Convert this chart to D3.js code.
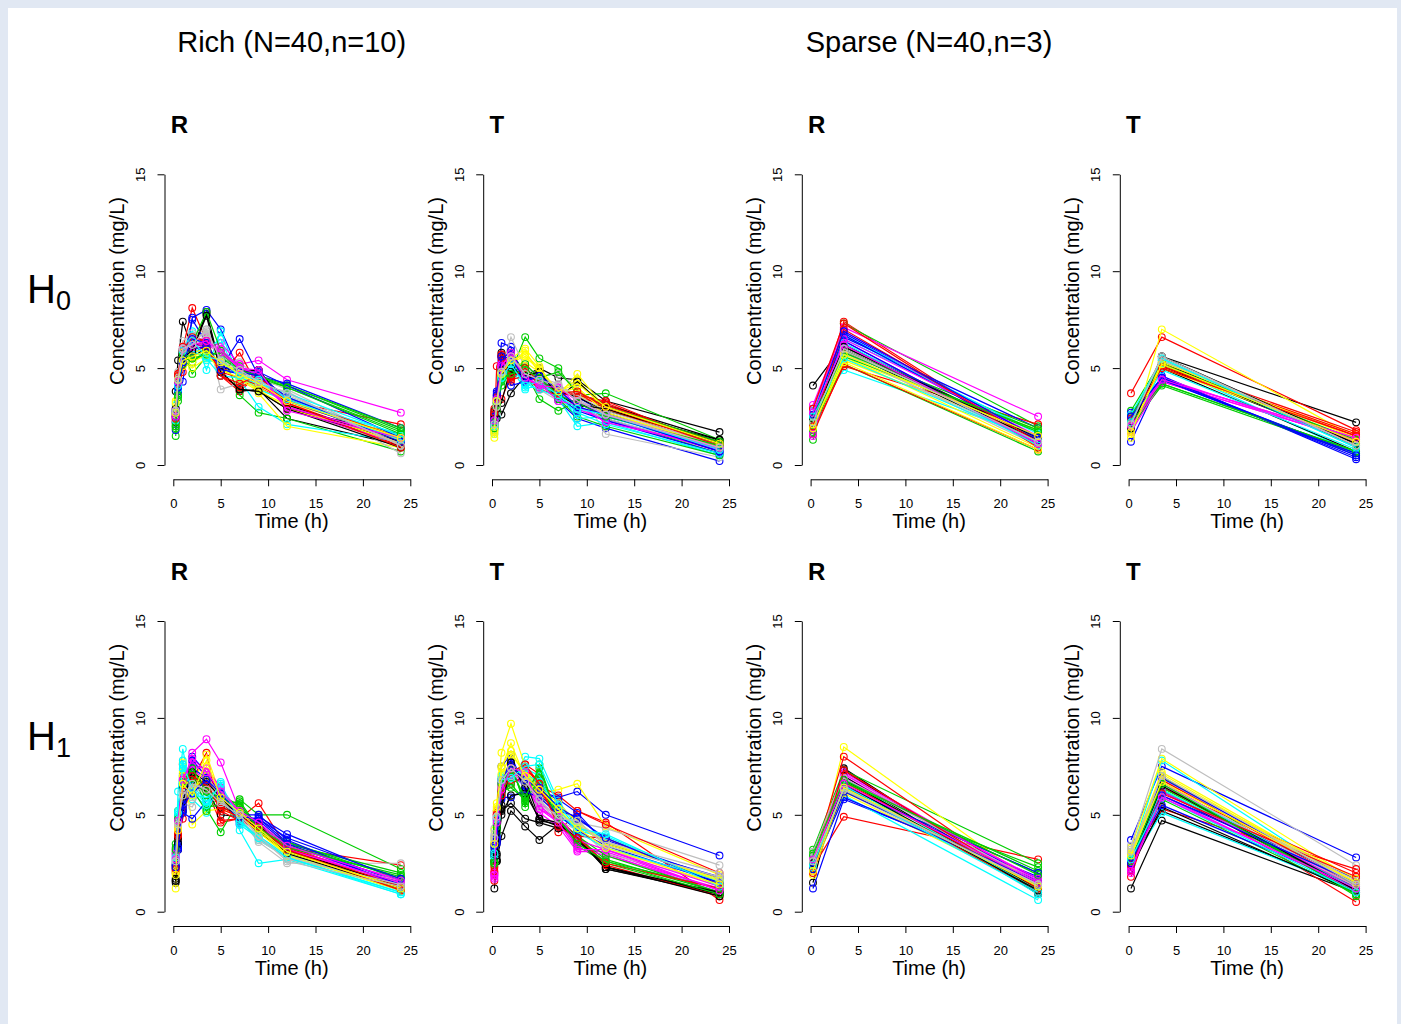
<!DOCTYPE html>
<html><head><meta charset="utf-8">
<script src="https://cdn.jsdelivr.net/npm/d3@7"></script>
<style>
html,body{margin:0;padding:0;background:#e1e8f3;}
svg{display:block;font-family:"Liberation Sans",Arial,Helvetica,sans-serif;}
</style></head>
<body><svg id="chart" width="1401" height="1024"></svg>
<script>
// ---------- DATA ----------
const timesRich = [0.25, 0.5, 1, 2, 3.5, 5, 7, 9, 12, 24];
const timesSparse = [0.25, 3.5, 24];
const palette = ["#000000","#FF0000","#00CD00","#0000FF","#00FFFF","#FF00FF","#FFFF00","#BEBEBE"];
const xTicks = [0, 5, 10, 15, 20, 25];
const yTicks = [0, 5, 10, 15];
const designTitles = ["Rich (N=40,n=10)", "Sparse (N=40,n=3)"];
const hypothesisLabels = ["0", "1"];
const formulationLabels = ["R", "T", "R", "T"];

const h0RichR = [
[3.8,5.4,7.4,6.0,7.8,4.9,3.8,3.9,2.4,1.0],[2.6,4.7,6.0,8.1,6.4,4.6,3.8,4.7,3.0,1.0],
[1.5,3.3,5.8,4.7,5.6,5.9,3.6,2.7,2.4,0.7],[2.8,3.8,4.3,7.6,8.0,7.0,4.8,4.7,3.4,1.3],
[3.1,4.0,5.6,6.9,4.9,6.9,4.4,3.0,2.1,1.2],[2.2,4.2,5.6,6.3,6.0,6.3,5.2,5.4,4.4,2.7],
[3.3,4.0,5.3,5.0,5.5,5.2,4.9,3.7,2.0,0.9],[2.4,4.4,5.6,6.6,6.9,3.9,4.2,4.1,3.8,0.6],
[2.5,3.9,5.9,5.8,7.9,5.0,4.9,4.9,2.9,1.6],[2.3,4.4,4.8,6.3,6.5,4.6,5.8,4.0,3.3,2.1],
[2.0,3.7,5.9,5.3,5.8,5.7,4.9,4.3,4.1,1.8],[1.8,3.8,5.3,7.5,6.3,5.0,6.5,4.6,4.2,1.9],
[2.6,3.6,6.1,6.7,6.0,6.5,4.3,4.2,3.5,1.4],[2.9,4.6,6.0,5.9,6.2,5.8,5.1,4.6,2.9,1.1],
[2.5,4.3,5.1,5.5,5.8,5.4,4.7,4.0,3.2,1.5],[2.9,4.8,6.4,6.8,7.0,5.5,5.3,4.5,3.9,1.0],
[2.2,4.0,5.8,6.2,6.2,4.8,3.9,3.8,2.9,1.2],[2.7,4.5,5.5,6.3,6.2,4.6,4.0,4.5,3.2,1.1],
[2.1,3.9,5.2,6.3,7.9,5.9,5.1,4.5,4.0,1.7],[2.6,4.0,5.8,5.7,6.2,4.9,4.7,4.7,3.3,1.3],
[2.8,4.2,5.8,6.2,5.4,5.3,4.6,3.9,3.3,1.6],[2.4,4.4,5.9,6.4,6.6,5.7,5.2,4.3,3.0,1.3],
[2.6,4.6,5.9,5.8,6.0,5.0,4.4,3.8,3.1,1.1],[2.4,4.3,5.6,6.5,6.8,5.7,5.0,4.2,3.6,1.2],
[2.9,4.5,5.7,5.6,6.0,5.1,4.8,4.9,3.1,1.2],[2.5,4.7,6.1,6.1,6.0,4.8,4.5,4.1,3.4,1.4],
[2.0,3.5,5.6,5.3,5.9,5.6,4.8,4.6,4.1,1.9],[2.8,3.8,5.3,6.0,6.1,5.1,4.8,4.8,4.1,1.4],
[2.3,3.9,5.4,5.9,5.5,4.6,4.5,4.2,3.7,1.5],[2.8,4.2,5.7,6.1,6.3,6.0,5.0,4.7,3.0,1.4],
[3.2,4.4,5.8,5.3,5.7,4.9,4.5,3.9,2.9,1.3],[2.6,4.5,5.9,6.2,6.7,5.3,4.7,4.4,3.5,1.1],
[2.7,4.3,5.5,5.9,7.7,4.8,3.9,3.8,2.9,0.9],[2.4,4.6,5.9,6.6,6.4,4.6,4.2,4.6,3.2,0.9],
[1.9,3.6,5.7,5.5,5.7,5.8,4.9,4.6,4.0,1.6],[2.5,4.0,5.3,6.5,6.3,4.9,4.8,4.6,3.5,1.2],
[2.7,4.1,5.9,6.4,5.6,5.4,4.6,4.4,3.4,1.3],[2.5,4.3,6.0,6.2,6.4,5.8,5.0,4.9,2.8,1.4],
[2.7,4.4,5.4,5.6,5.9,5.3,4.7,4.2,3.3,1.4],[2.8,4.4,6.0,6.2,7.0,5.4,4.9,4.3,3.7,1.0]
];
const h0RichT = [
[2.8,3.4,2.6,3.7,4.6,5.0,4.5,4.4,3.3,1.7],[2.0,5.1,5.7,4.3,5.1,4.0,3.8,3.7,3.2,1.0],
[1.8,2.8,4.1,4.8,6.6,5.5,5.0,3.6,3.7,1.3],[2.4,3.7,6.3,6.1,4.2,4.8,3.3,2.4,1.9,0.2],
[1.6,2.5,4.7,5.0,3.9,4.2,3.4,2.0,2.2,0.5],[2.2,3.0,4.9,5.7,4.3,4.1,4.1,3.0,2.4,0.7],
[1.4,3.0,4.6,5.5,6.0,5.1,3.6,4.7,2.9,1.1],[1.7,2.6,5.0,6.6,5.0,4.6,4.7,4.0,1.6,0.4],
[2.5,2.4,5.8,5.0,4.5,4.5,3.7,3.0,3.1,1.3],[2.9,3.3,3.4,4.6,4.9,4.4,3.8,3.6,3.3,0.9],
[2.1,3.2,4.4,5.8,4.8,3.4,2.8,3.3,2.4,0.6],[1.9,3.8,5.6,4.1,4.3,4.6,3.8,3.5,2.7,0.8],
[2.3,3.5,4.9,5.3,4.2,4.4,3.7,3.1,2.3,1.0],[2.6,3.6,5.3,5.4,4.6,4.3,3.6,3.2,2.5,0.9],
[1.9,3.2,4.6,5.3,5.6,4.9,3.8,4.4,2.8,1.2],[2.4,3.4,4.8,5.2,4.7,3.9,3.3,2.9,2.4,0.8],
[2.7,3.0,3.2,5.1,4.5,4.6,3.4,4.3,3.0,1.2],[2.3,3.3,5.7,4.6,4.8,4.2,3.9,3.5,3.1,1.1],
[2.0,2.9,4.3,4.9,5.0,4.3,3.4,2.5,2.0,0.5],[2.5,3.6,5.4,5.9,4.6,4.7,3.6,3.2,2.6,0.7],
[2.2,3.2,4.5,5.3,4.0,4.0,3.8,2.4,2.5,0.9],[2.1,3.2,5.0,5.6,4.7,4.0,3.9,2.9,2.3,0.8],
[1.6,3.0,4.9,5.1,5.3,4.8,3.9,3.7,2.6,1.0],[2.2,3.1,4.7,5.5,4.8,4.5,4.2,3.4,2.6,1.1],
[2.6,3.2,5.6,4.8,4.6,4.4,3.8,3.5,2.8,1.3],[2.6,3.4,5.5,4.4,4.6,3.9,3.6,3.7,2.9,0.9],
[2.2,3.0,4.6,5.0,5.2,4.5,4.8,3.8,3.0,1.2],[2.1,3.5,5.1,5.2,4.3,4.6,3.5,2.8,2.3,0.6],
[2.0,3.1,4.4,5.1,4.2,3.9,3.5,2.7,2.1,0.6],[2.4,3.3,5.2,5.6,4.4,4.2,3.3,3.1,2.2,0.9],
[1.7,3.1,4.8,5.2,5.9,4.7,3.7,4.0,2.7,1.0],[1.9,2.9,4.9,5.4,4.9,4.3,4.1,3.6,2.8,1.0],
[2.4,2.9,4.9,5.0,4.6,4.8,3.6,3.1,2.9,1.1],[2.7,3.5,5.6,4.5,5.0,4.3,3.7,3.8,3.0,1.0],
[1.9,3.1,4.4,4.7,4.9,4.5,3.6,3.2,2.5,1.0],[2.3,3.6,5.6,5.5,4.4,4.6,3.9,3.0,2.6,0.7],
[2.0,3.3,4.5,5.2,4.1,4.3,3.6,2.9,2.6,0.8],[2.3,3.4,5.1,5.8,4.5,4.1,4.0,3.3,2.6,0.9],
[1.8,3.3,4.7,5.4,5.7,5.0,3.8,4.2,3.0,1.1],[2.1,3.0,4.8,5.6,4.7,4.4,4.1,3.3,2.6,0.9]
];
const h1RichR = [
[1.5,3.2,5.2,6.9,6.5,6.2,5.0,4.6,3.1,1.4],[2.1,4.1,7.6,6.5,6.3,4.6,4.8,5.6,3.3,2.4],
[3.5,5.2,7.1,7.3,5.3,4.1,5.8,5.0,5.0,2.2],[2.3,3.2,5.2,8.0,7.2,6.0,4.5,4.9,4.0,1.6],
[2.9,6.2,8.4,5.8,5.1,6.7,4.2,2.5,2.7,0.9],[3.2,4.8,6.4,8.2,8.9,7.7,5.2,4.5,3.2,1.7],
[1.2,3.8,7.7,4.5,5.2,5.3,4.9,4.1,3.0,1.3],[2.4,4.4,5.9,5.9,6.4,5.8,4.8,3.6,2.5,2.5],
[1.6,3.6,5.4,7.4,6.3,5.0,4.9,4.4,3.2,1.1],[2.0,3.8,4.8,6.8,8.2,4.7,4.8,4.1,3.2,1.3],
[3.0,4.6,6.9,7.2,5.4,5.5,5.7,4.3,3.5,2.0],[2.4,3.3,5.1,4.8,5.7,6.3,4.6,4.8,3.6,1.5],
[2.7,5.0,7.3,6.2,5.4,6.3,4.5,3.8,2.8,1.0],[2.8,4.6,6.6,7.7,7.0,6.0,5.1,4.4,3.3,1.4],
[2.2,4.5,7.2,6.6,8.1,6.0,5.3,4.2,2.9,1.2],[2.6,4.7,5.6,5.4,6.9,6.1,5.0,3.9,2.7,1.5],
[2.4,3.8,6.4,7.0,6.6,5.4,5.0,4.1,3.1,1.2],[2.5,4.2,5.8,6.6,6.2,5.5,4.8,4.2,3.4,1.2],
[3.3,4.9,6.6,6.3,5.2,6.0,5.5,4.4,3.6,1.7],[2.2,3.5,5.3,7.8,7.0,5.7,5.0,5.0,3.7,1.3],
[2.5,4.9,7.4,6.5,5.7,6.5,4.8,3.7,2.8,1.0],[2.9,4.5,7.0,7.3,6.8,5.8,5.0,4.5,3.3,1.4],
[2.0,4.3,6.8,6.4,7.5,6.2,5.2,4.2,3.0,1.3],[2.5,4.5,6.2,6.1,6.5,5.9,5.1,3.8,2.9,1.6],
[1.7,3.9,6.0,6.8,6.4,5.6,4.9,4.3,3.2,1.3],[2.3,4.0,6.2,6.4,6.7,5.2,4.7,4.3,3.3,1.3],
[3.1,4.7,7.0,6.9,6.0,5.7,5.6,4.2,3.3,1.9],[2.4,3.4,5.8,7.4,6.9,5.9,4.7,4.7,3.5,1.4],
[2.6,5.2,7.8,6.0,5.9,6.4,4.6,3.9,2.9,1.1],[3.0,4.4,6.9,7.5,7.4,6.4,5.1,4.3,3.2,1.5],
[2.1,4.4,7.0,6.3,7.0,5.8,5.0,4.1,2.9,1.1],[2.7,4.6,6.1,6.3,6.7,5.7,4.9,3.7,2.8,1.4],
[1.6,3.5,5.7,7.2,6.7,5.9,4.9,4.5,3.0,1.2],[2.2,3.9,6.8,7.0,6.5,5.3,4.9,4.4,3.2,1.1],
[3.2,4.8,6.7,7.4,6.2,5.9,5.4,4.3,3.4,1.8],[2.3,3.3,5.5,6.1,6.8,6.1,4.9,4.8,3.8,1.7],
[2.8,5.1,7.6,6.4,5.5,6.6,4.7,3.8,2.8,0.9],[2.7,4.7,6.8,7.9,7.2,6.2,5.2,4.6,3.4,1.6],
[1.9,4.2,6.6,6.0,7.8,5.9,5.1,4.3,3.1,1.2],[2.6,4.5,6.0,6.6,6.3,5.6,5.0,3.9,2.6,1.3]
];
const h1RichT = [
[1.2,2.6,3.9,5.2,4.4,3.7,4.5,3.8,2.2,0.9],[1.6,5.2,6.3,7.0,7.6,7.1,4.1,5.2,4.6,0.6],
[2.5,4.3,6.0,7.7,5.4,7.6,4.7,3.4,2.5,0.9],[3.1,3.6,7.5,8.1,6.3,6.2,5.9,6.2,5.0,2.9],
[2.7,4.9,6.6,6.7,8.0,7.9,5.7,4.4,3.6,1.6],[1.8,4.7,6.2,7.0,6.9,5.1,4.4,3.1,3.1,1.1],
[4.2,5.6,8.2,9.7,7.5,6.1,6.3,6.6,4.4,1.9],[4.3,4.8,6.7,7.3,7.0,5.4,4.8,4.6,4.3,2.4],
[3.5,2.6,5.2,5.6,4.8,4.6,4.3,3.9,2.3,0.9],[2.6,4.8,6.3,6.9,7.5,6.5,6.0,5.2,4.5,2.0],
[2.4,4.0,6.2,6.4,5.8,7.1,4.9,3.6,2.6,1.2],[3.0,3.5,5.9,5.9,6.3,6.2,5.8,5.1,3.5,1.8],
[3.2,4.6,7.0,7.5,7.1,6.4,5.3,4.2,3.8,1.5],[1.9,4.9,6.0,6.9,6.7,5.5,4.6,3.5,3.0,1.0],
[3.6,5.2,7.4,8.7,6.9,6.0,5.4,4.7,3.4,1.3],[3.9,4.6,6.5,7.1,6.8,5.7,4.9,4.4,3.0,1.5],
[2.6,2.7,5.0,6.0,6.1,4.8,4.4,3.9,2.2,1.0],[2.0,5.0,6.2,6.8,7.3,6.8,4.5,4.0,2.4,0.8],
[2.5,4.5,6.4,7.5,5.6,6.8,4.6,3.8,2.7,1.0],[2.9,3.8,5.8,7.0,6.5,6.0,5.2,4.9,3.7,1.7],
[2.8,4.7,6.8,7.0,7.4,7.0,4.9,4.3,3.9,1.4],[2.0,4.8,6.4,7.2,6.6,5.3,4.8,3.3,2.9,1.2],
[3.3,5.0,6.9,7.8,6.6,5.9,5.1,4.5,3.5,1.7],[3.7,4.5,6.4,6.8,6.6,5.6,4.7,4.2,3.2,1.6],
[2.9,3.0,5.5,7.6,6.8,4.8,4.6,3.7,2.3,0.8],[2.3,5.1,6.6,6.6,7.0,6.3,4.8,3.9,3.8,1.4],
[2.6,4.2,6.1,6.6,5.7,6.9,4.7,3.9,2.9,1.0],[3.3,3.9,6.6,7.9,6.2,5.9,5.0,4.2,3.4,1.5],
[2.9,4.9,6.9,7.2,7.1,6.7,5.3,4.1,3.3,1.6],[1.7,5.0,6.5,7.1,7.0,5.6,4.9,3.7,3.2,1.3],
[3.8,5.3,7.1,8.1,7.2,6.4,5.6,4.6,3.6,1.6],[4.0,4.7,6.6,7.0,6.9,5.5,5.0,4.5,3.6,2.0],
[3.0,2.9,5.3,7.7,6.4,4.7,4.5,3.8,2.3,1.0],[2.1,5.0,6.0,7.2,7.6,6.6,4.4,3.8,2.5,1.2],
[2.5,4.4,6.6,7.3,5.9,7.4,4.8,3.5,2.6,0.9],[3.4,3.7,6.8,7.5,6.8,6.4,5.4,4.8,3.8,1.4],
[3.0,4.8,6.8,6.9,7.5,7.6,5.5,4.3,4.0,1.3],[1.9,4.6,6.3,7.4,7.2,5.3,4.6,3.2,3.2,1.1],
[3.5,5.4,7.5,8.3,7.0,6.3,5.3,4.3,3.3,1.4],[3.8,4.9,6.8,7.4,6.7,5.8,4.8,4.7,3.4,1.8]
];
const h0SparseR = [
[4.1,6.2,1.4],[2.4,7.4,1.0],[1.3,7.3,2.0],[2.2,6.8,1.4],[2.8,4.9,1.4],[3.1,7.1,2.5],[2.0,5.6,0.9],[2.6,6.0,1.1],
[2.4,6.1,1.3],[1.8,5.1,2.1],[2.0,5.2,0.7],[2.3,6.6,1.9],[2.9,6.5,1.7],[1.5,6.4,1.1],[1.9,5.4,1.5],[2.5,5.8,1.0],
[2.2,5.9,1.2],[1.6,5.2,0.8],[1.8,5.9,1.9],[2.1,6.4,1.1],[2.7,6.7,1.6],[2.9,6.9,1.3],[2.3,5.5,1.8],[2.0,5.7,1.2],
[2.5,6.0,1.3],[2.9,7.3,0.9],[1.7,5.8,1.7],[2.2,6.7,1.3],[2.4,6.3,1.0],[1.6,6.5,1.5],[2.1,5.3,0.8],[2.3,5.9,1.4],
[2.4,6.1,1.4],[2.0,7.0,1.2],[2.2,5.6,1.8],[2.6,6.9,1.4],[2.5,5.5,1.2],[2.7,6.2,1.1],[1.9,5.7,1.5],[2.2,6.0,1.2]
];
const h0SparseT = [
[2.1,5.6,2.2],[3.7,6.6,1.8],[2.8,5.4,1.2],[1.2,4.6,0.3],[2.3,5.2,0.6],[1.9,4.4,1.4],[1.4,7.0,1.4],[2.2,5.5,0.9],
[1.8,5.0,0.7],[1.8,5.2,1.7],[2.0,4.1,0.6],[2.6,4.5,0.4],[2.4,5.3,1.0],[2.0,4.3,1.3],[1.6,5.1,1.6],[2.3,5.6,1.1],
[2.0,5.1,1.1],[2.2,5.1,1.5],[1.9,4.2,0.7],[2.7,4.4,0.5],[2.6,5.4,0.9],[1.7,4.3,1.3],[2.0,5.0,1.3],[1.9,5.4,1.0],
[2.2,5.3,1.0],[2.1,5.1,1.6],[2.5,5.2,1.3],[2.3,4.4,0.6],[1.9,4.9,0.8],[2.1,4.5,1.2],[1.8,5.3,1.4],[2.2,5.5,1.0],
[1.9,5.6,1.1],[2.4,5.0,1.5],[2.2,4.2,0.7],[2.5,4.5,0.5],[2.2,5.5,0.9],[2.0,4.4,1.4],[1.7,5.2,1.2],[2.1,5.6,1.0]
];
const h1SparseR = [
[1.5,7.4,0.9],[2.3,4.9,2.7],[3.2,7.3,2.5],[1.2,5.8,1.8],[2.2,6.0,0.6],[2.9,7.2,1.5],[1.9,8.5,1.3],[3.0,6.2,1.2],
[2.4,7.3,1.0],[2.6,8.0,1.1],[2.8,6.2,2.3],[2.4,6.5,1.7],[2.5,6.9,0.9],[2.8,7.0,1.4],[2.2,6.1,1.2],[3.1,7.1,1.3],
[2.6,7.0,1.0],[2.5,6.6,1.0],[3.0,6.4,2.0],[2.3,5.9,1.6],[2.7,6.8,1.1],[2.5,7.1,1.6],[2.0,6.3,1.4],[2.9,6.6,1.4],
[2.2,6.8,1.2],[2.0,6.7,1.3],[2.7,6.7,2.1],[2.5,6.4,2.0],[2.3,6.5,1.3],[2.6,6.9,1.7],[2.4,6.2,1.5],[2.8,6.9,1.5],
[2.5,6.6,1.1],[2.1,7.3,1.2],[2.9,6.8,1.9],[2.2,6.2,1.5],[2.4,6.4,1.0],[2.7,6.6,1.5],[2.1,6.4,1.3],[2.6,6.3,1.4]
];
const h1SparseT = [
[1.2,4.7,1.0],[1.8,6.6,0.5],[2.4,7.0,0.8],[3.7,7.5,2.8],[3.0,7.8,1.3],[2.1,6.5,1.2],[3.3,7.9,1.6],[3.4,8.4,2.4],
[2.6,5.2,1.1],[2.9,5.3,2.2],[2.3,5.8,0.9],[2.8,6.0,1.7],[2.5,5.1,1.1],[2.0,6.7,1.0],[3.1,7.2,1.5],[3.0,6.9,1.4],
[2.2,5.4,1.0],[2.6,6.4,2.0],[2.5,6.3,1.0],[2.7,5.5,1.3],[2.9,6.6,1.1],[2.3,6.0,1.1],[2.8,6.9,1.7],[3.2,6.8,1.6],
[2.4,6.2,1.2],[2.1,6.8,1.3],[2.7,6.4,1.2],[2.4,6.9,1.4],[2.6,6.3,1.2],[2.2,6.2,1.3],[3.0,7.1,1.4],[2.9,6.6,1.3],
[2.5,6.5,1.1],[2.4,6.1,1.8],[2.6,6.6,0.9],[2.5,6.0,1.5],[2.7,5.9,1.0],[2.1,5.9,1.2],[2.9,6.7,1.5],[3.1,7.0,1.4]
];

// ---------- LAYOUT ----------
const svg = d3.select("#chart");
svg.append("rect").attr("x",0).attr("y",0).attr("width",1401).attr("height",1024).attr("fill","#e1e8f3");
svg.append("rect").attr("x",8).attr("y",8).attr("width",1389).attr("height",1016).attr("fill","#ffffff");

const colX0 = [173.3, 492.0, 810.6, 1128.6];
const rowY0 = [465.0, 911.7];
const plotW = 237, plotH = 290.7;

const panels = [
  {row:0,col:0,data:h0RichR,times:timesRich},
  {row:0,col:1,data:h0RichT,times:timesRich},
  {row:0,col:2,data:h0SparseR,times:timesSparse},
  {row:0,col:3,data:h0SparseT,times:timesSparse},
  {row:1,col:0,data:h1RichR,times:timesRich},
  {row:1,col:1,data:h1RichT,times:timesRich},
  {row:1,col:2,data:h1SparseR,times:timesSparse},
  {row:1,col:3,data:h1SparseT,times:timesSparse}
];

// design titles
designTitles.forEach((t,i)=>{
  svg.append("text").attr("x", colX0[i*2]+118.4).attr("y", 52)
    .attr("text-anchor","middle").attr("font-size",29).attr("fill","#000").text(t);
});
// hypothesis labels
hypothesisLabels.forEach((s,i)=>{
  const t = svg.append("text").attr("x",27).attr("y", rowY0[i]-162).attr("font-size",40).attr("fill","#000");
  t.append("tspan").text("H");
  t.append("tspan").attr("font-size",27).attr("dy",7).text(s);
});

panels.forEach(p=>{
  const x0 = colX0[p.col], y0 = rowY0[p.row];
  const x = d3.scaleLinear().domain([0,25]).range([x0, x0+plotW]);
  const y = d3.scaleLinear().domain([0,15]).range([y0, y0-plotH]);
  const g = svg.append("g");

  // x axis
  const xa = g.append("g").attr("transform",`translate(0,${y0+14.3})`)
    .call(d3.axisBottom(x).tickValues(xTicks).tickSize(7).tickSizeOuter(0).tickFormat(d3.format("d")));
  xa.selectAll("text").attr("font-size",13).attr("font-family","Liberation Sans, Arial, sans-serif")
    .attr("dy",null).attr("y",28.5);
  // y axis
  const axX = x0-8.8;
  const ya = g.append("g").attr("transform",`translate(${axX},0)`)
    .call(d3.axisLeft(y).tickValues(yTicks).tickSize(7).tickSizeOuter(0).tickFormat(d3.format("d")));
  ya.selectAll("text").attr("font-size",13).attr("font-family","Liberation Sans, Arial, sans-serif")
    .attr("dy",null).attr("x",null).attr("text-anchor","middle")
    .attr("transform","translate(-19.5,0) rotate(-90)");
  g.selectAll(".domain, .tick line").attr("stroke","#000").attr("stroke-width",1);

  // axis titles
  g.append("text").attr("x", x0+118.4).attr("y", y0+63.3).attr("text-anchor","middle")
    .attr("font-size",20).text("Time (h)");
  g.append("text").attr("transform",`translate(${x0-49.5},${y0-174}) rotate(-90)`)
    .attr("text-anchor","middle").attr("font-size",20).text("Concentration (mg/L)");
  // panel label
  g.append("text").attr("x", x0-2.5).attr("y", y0-332).attr("font-size",24).attr("font-weight","bold")
    .text(formulationLabels[p.col]);

  // subjects
  const line = d3.line().x((d,i)=>x(p.times[i])).y(d=>y(d));
  p.data.forEach((subj,si)=>{
    const col = palette[si % palette.length];
    g.append("path").attr("d", line(subj)).attr("fill","none").attr("stroke",col).attr("stroke-width",1.2);
    g.selectAll(null).data(subj).enter().append("circle")
      .attr("cx",(d,i)=>x(p.times[i])).attr("cy",d=>y(d)).attr("r",3.4)
      .attr("fill","none").attr("stroke",col).attr("stroke-width",1.1);
  });
});
</script></body></html>
